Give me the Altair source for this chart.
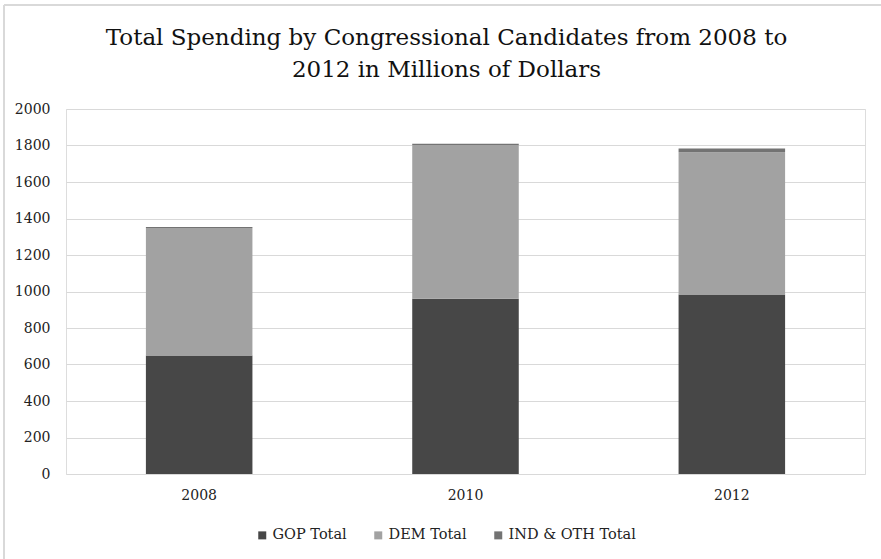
import altair as alt
import pandas as pd

years = ["2008", "2010", "2012"]
series = ["GOP Total", "DEM Total", "IND & OTH Total"]
gop = [649, 960, 983]
dem = [699, 843, 780]
ind = [5, 7, 20]
colors = ["#474747", "#a2a2a2", "#737373"]
y_ticks = [0, 200, 400, 600, 800, 1000, 1200, 1400, 1600, 1800, 2000]
title_lines = ["Total Spending by Congressional Candidates from 2008 to",
               "2012 in Millions of Dollars"]

rows = []
for i, yr in enumerate(years):
    for k, (name, vals) in enumerate(zip(series, [gop, dem, ind])):
        rows.append({"year": yr, "series": name, "value": vals[i], "order": k})
df = pd.DataFrame(rows)

FONT = "DejaVu Serif"

bars = alt.Chart(df).mark_bar().encode(
    x=alt.X("year:N", title=None, sort=years,
            scale=alt.Scale(paddingInner=0.6, paddingOuter=0.3),
            axis=alt.Axis(labelAngle=0, ticks=False, domain=False, grid=False,
                          labelPadding=14, labelColor="#222222")),
    y=alt.Y("value:Q", title=None, stack="zero",
            scale=alt.Scale(domain=[0, 2000], nice=False),
            axis=alt.Axis(values=y_ticks, format="d", ticks=False, domain=False, grid=True,
                          gridColor="#d9d9d9", gridWidth=1, labelPadding=16,
                          labelColor="#222222")),
    color=alt.Color("series:N", sort=series,
                    scale=alt.Scale(domain=series, range=colors),
                    legend=alt.Legend(title=None, orient="none", direction="horizontal",
                                      legendX=189, legendY=419, symbolType="square",
                                      symbolSize=64, symbolStrokeWidth=0,
                                      labelColor="#222222", labelOffset=3,
                                      columnPadding=24)),
    order=alt.Order("order:Q", sort="ascending"),
)

frame_top = alt.Chart(df).mark_rule(color="#d9d9d9", strokeWidth=1.5).encode(
    x=alt.value(-62), x2=alt.value(830), y=alt.value(-104))
frame_left = alt.Chart(df).mark_rule(color="#d9d9d9", strokeWidth=1.5).encode(
    x=alt.value(-62), y=alt.value(-104), y2=alt.value(460))

chart = alt.layer(frame_top, frame_left, bars).properties(
    width=799, height=365,
    title=alt.TitleParams(title_lines, fontSize=23, fontWeight="normal",
                          color="#111111", anchor="middle", dx=-19, dy=92, offset=14,
                          lineHeight=32),
    padding={"left": 66, "top": 109, "right": 16, "bottom": 85},
    autosize=alt.AutoSizeParams(type="none"),
).configure_view(stroke=None).configure(background="white", font=FONT).configure_axis(
    labelFont=FONT, labelFontSize=14
).configure_legend(labelFont=FONT, labelFontSize=14.5).configure_title(font=FONT)

chart.save("out.html", embed_options={"renderer": "svg", "actions": False})
